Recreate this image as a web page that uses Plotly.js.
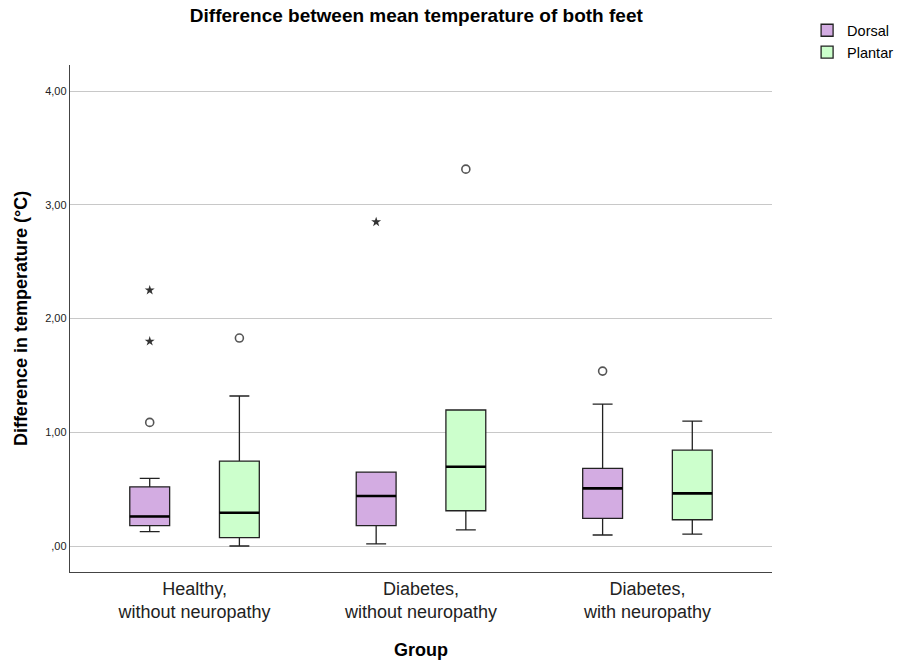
<!DOCTYPE html>
<html>
<head>
<meta charset="utf-8">
<script src="https://cdn.plot.ly/plotly-3.0.1.min.js"></script>
<style>
  html, body { margin: 0; padding: 0; background: #fff; }
  #chart { width: 917px; height: 661px; }
</style>
</head>
<body>
<div id="chart"></div>
<script>
// Groups on the x axis
const groups = ["Healthy,<br>without neuropathy", "Diabetes,<br>without neuropathy", "Diabetes,<br>with neuropathy"];

// Box summaries (°C): Dorsal
const dorsalLow    = [0.126, 0.018, 0.097];
const dorsalQ1     = [0.180, 0.180, 0.243];
const dorsalMedian = [0.260, 0.440, 0.507];
const dorsalQ3     = [0.520, 0.650, 0.683];
const dorsalHigh   = [0.595, 0.650, 1.248];

// Box summaries (°C): Plantar
const plantarLow    = [0.000, 0.141, 0.105];
const plantarQ1     = [0.073, 0.310, 0.231];
const plantarMedian = [0.293, 0.697, 0.463];
const plantarQ3     = [0.747, 1.196, 0.844];
const plantarHigh   = [1.319, 1.196, 1.099];

// Outliers (circles) and extreme values (stars)
const dorsalOutGroup   = [0, 2];
const dorsalOutValue   = [1.087, 1.538];
const dorsalExtGroup   = [0, 0, 1];
const dorsalExtValue   = [1.80, 2.25, 2.85];
const plantarOutGroup  = [0, 1];
const plantarOutValue  = [1.829, 3.314];

// Y tick labels (comma decimal)
const yTickVals = [0, 1, 2, 3, 4];
const yTickText = [",00", "1,00", "2,00", "3,00", "4,00"];

const offset = 0.198;
const boxW = 0.176;
const dorsalColor = "#D3ACE2";
const plantarColor = "#CCFFCC";
const edge = "#222222";

const idx = groups.map((_, i) => i);
const dorsalX = idx.map(i => i - offset);
const plantarX = idx.map(i => i + offset);

function boxTrace(name, xs, lo, q1, med, q3, hi, fill) {
  return {
    type: "box", name: name, x: xs,
    lowerfence: lo, q1: q1, median: med, q3: q3, upperfence: hi,
    width: boxW, whiskerwidth: 0.5,
    fillcolor: fill, line: { color: edge, width: 1.3 },
    boxpoints: false, hoverinfo: "skip", showlegend: true
  };
}

// Thick median bars built from the same medians
function medianTrace(xs, med) {
  const x = [], y = [];
  xs.forEach((c, i) => { x.push(c - boxW / 2, c + boxW / 2, null); y.push(med[i], med[i], null); });
  return { type: "scatter", mode: "lines", x: x, y: y, line: { color: "#000", width: 2.6 },
           showlegend: false, hoverinfo: "skip" };
}

function pointTrace(gs, vals, off, symbol) {
  const isStar = symbol === "star";
  return {
    type: "scatter", mode: "markers",
    x: gs.map(g => g + off), y: vals,
    marker: isStar
      ? { symbol: "star", size: 7.5, color: "#333" }
      : { symbol: "circle-open", size: 8, color: "#555", line: { width: 1.6, color: "#555" } },
    showlegend: false, hoverinfo: "skip"
  };
}

const data = [
  boxTrace("Dorsal", dorsalX, dorsalLow, dorsalQ1, dorsalMedian, dorsalQ3, dorsalHigh, dorsalColor),
  boxTrace("Plantar", plantarX, plantarLow, plantarQ1, plantarMedian, plantarQ3, plantarHigh, plantarColor),
  medianTrace(dorsalX, dorsalMedian),
  medianTrace(plantarX, plantarMedian),
  pointTrace(dorsalOutGroup, dorsalOutValue, -offset, "circle"),
  pointTrace(dorsalExtGroup, dorsalExtValue, -offset, "star"),
  pointTrace(plantarOutGroup, plantarOutValue, offset, "circle")
];

const layout = {
  width: 917, height: 661,
  margin: { l: 70, r: 145, t: 65, b: 89 },
  paper_bgcolor: "#fff", plot_bgcolor: "#fff",
  font: { family: "Liberation Sans, Arial, sans-serif", color: "#000" },
  title: {
    text: "<b>Difference between mean temperature of both feet</b>",
    font: { size: 19, color: "#000" },
    x: 0.454, xanchor: "center", y: 0.977, yanchor: "middle"
  },
  xaxis: {
    range: [-0.55, 2.55], tickvals: idx, ticktext: groups,
    showgrid: false, zeroline: false, ticks: "",
    showline: true, linecolor: "#444", linewidth: 1.2,
    tickfont: { size: 18, color: "#222" },
    title: { text: "<b>Group</b>", font: { size: 18, color: "#000" }, standoff: 22 }
  },
  yaxis: {
    range: [-0.2286, 4.23], tickvals: yTickVals, ticktext: yTickText,
    showgrid: true, gridcolor: "#c8c8c8", gridwidth: 1, zeroline: false,
    ticks: "", showline: true, linecolor: "#444", linewidth: 1.2,
    tickfont: { size: 11, color: "#222" },
    title: { text: "<b>Difference in temperature (°C)</b>", font: { size: 18, color: "#000" }, standoff: 12 }
  },
  legend: {
    x: 1.05, y: 1.1, xanchor: "left", yanchor: "top",
    font: { size: 14.5, color: "#000" }, tracegroupgap: 0, itemwidth: 30,
    bgcolor: "rgba(0,0,0,0)"
  },
  showlegend: true
};

Plotly.newPlot("chart", data, layout, { displayModeBar: false, staticPlot: true });
</script>
</body>
</html>
